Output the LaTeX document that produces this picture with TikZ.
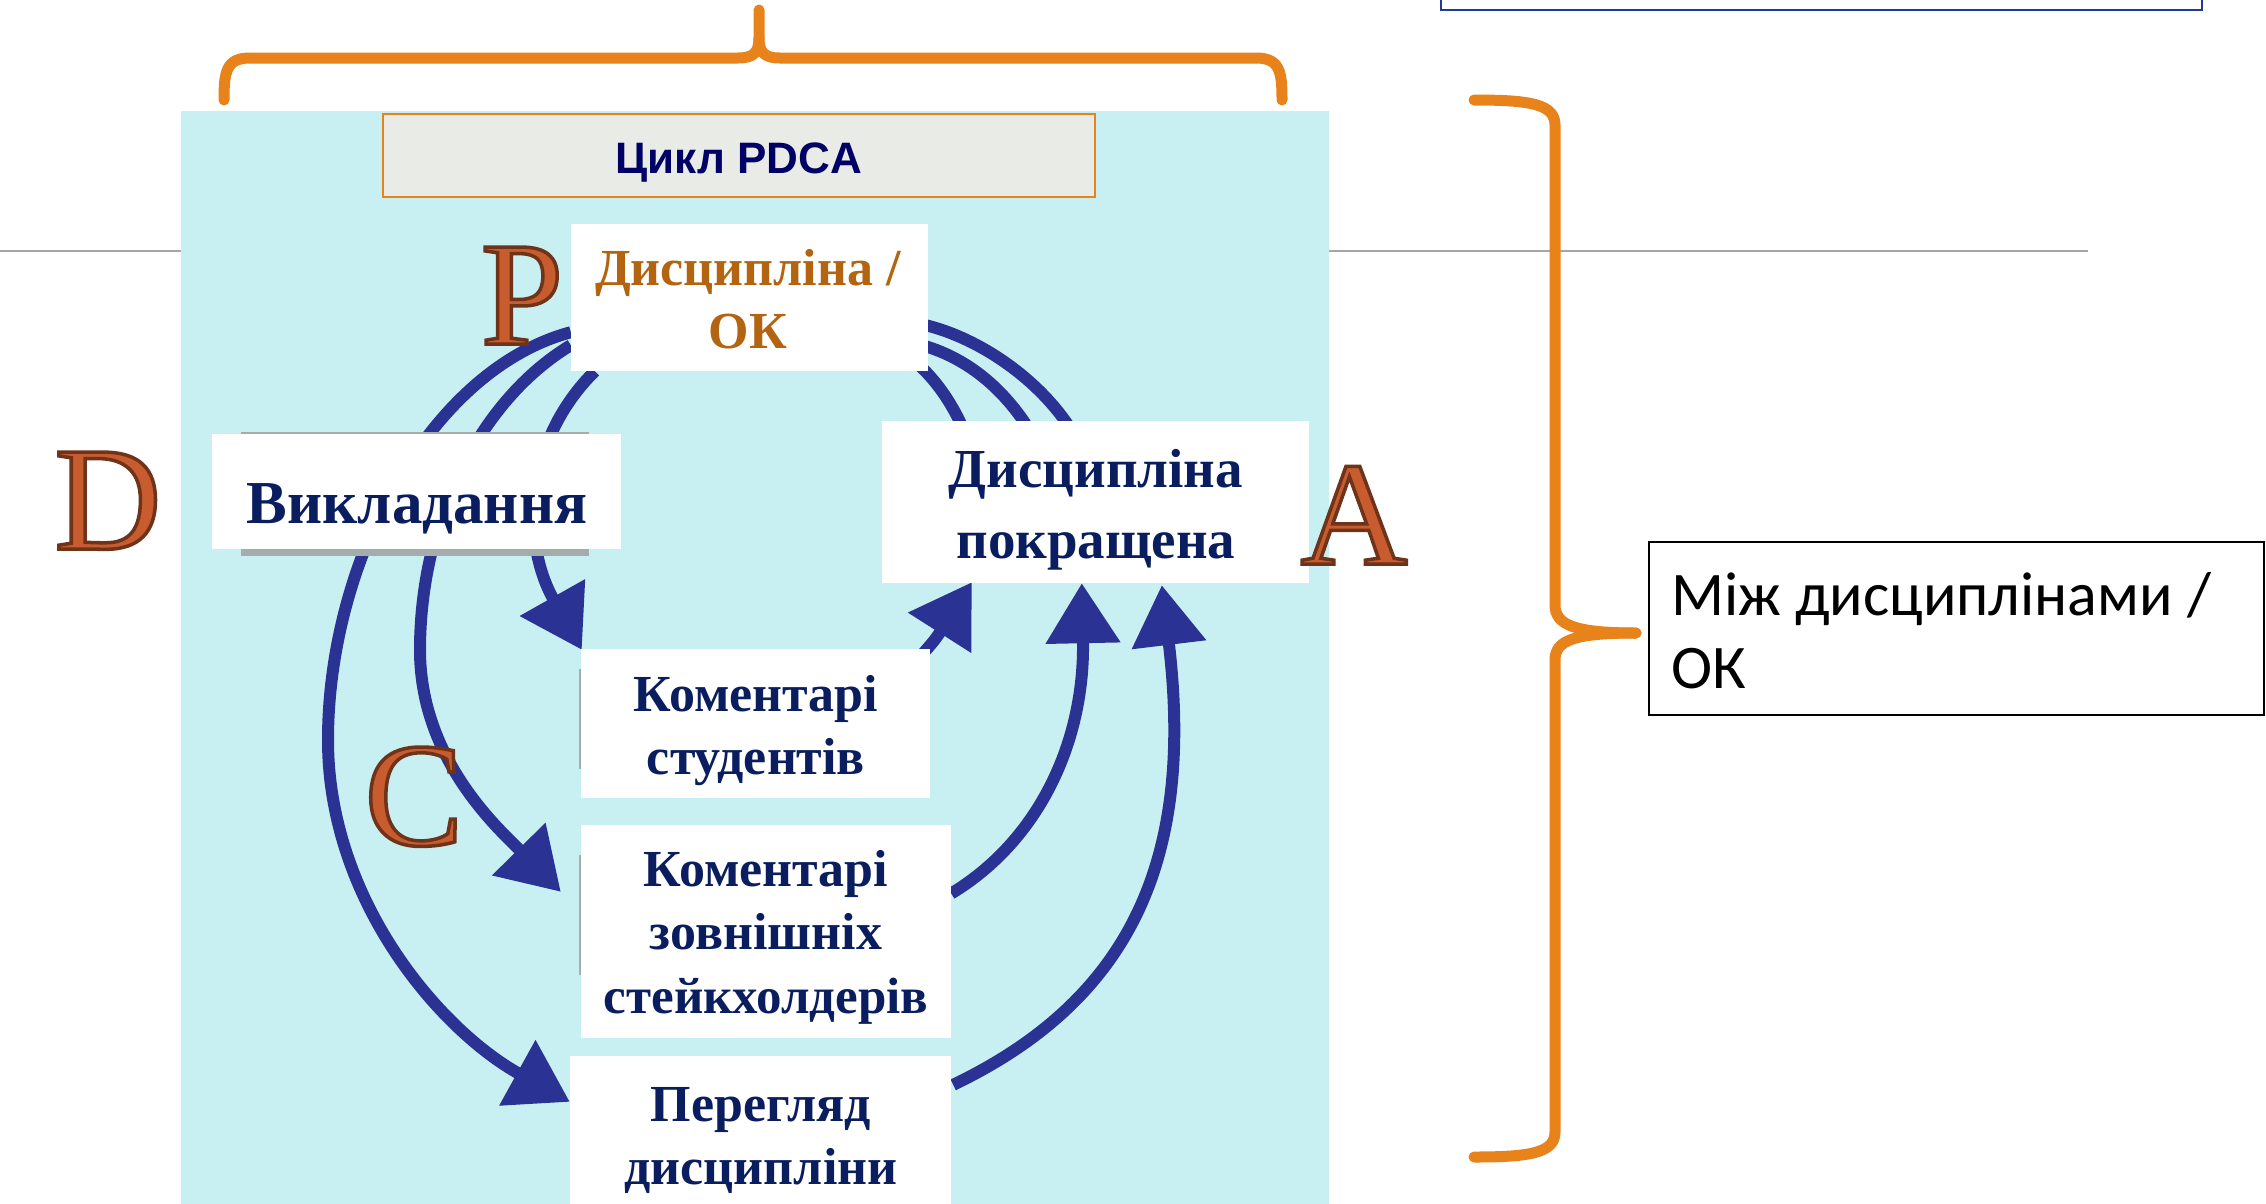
\documentclass[tikz,border=0pt]{standalone}
\usepackage{fontspec}
\setmainfont{Liberation Serif}
\newfontfamily\titlefont{Liberation Sans}
\newfontfamily\notefont{Carlito}
\usetikzlibrary{arrows.meta,calc}
\definecolor{bgcyan}{RGB}{200,240,242}
\definecolor{brorange}{RGB}{232,130,26}
\definecolor{arrblue}{RGB}{42,50,148}
\definecolor{txtnavy}{RGB}{10,30,95}
\definecolor{ttlnavy}{RGB}{0,0,102}
\definecolor{ochre}{RGB}{178,100,16}
\definecolor{letorange}{RGB}{200,92,46}
\definecolor{titlefill}{RGB}{233,235,230}
\definecolor{topblue}{RGB}{30,60,150}
\definecolor{linegray}{RGB}{166,166,166}
\definecolor{shadowgray}{RGB}{165,172,172}
% single glyph, orange fill with dark brown stroke (bevel look)
\newcommand{\bevelletter}[1]{\special{pdf:code 2 Tr 3.5 w 0.43 0.2 0.1 RG}#1\special{pdf:code 0 Tr}}
\begin{document}
\begin{tikzpicture}[x=1pt,y=-1pt,
  whitebox/.style={fill=white, draw=none, inner sep=0pt, rectangle},
  boxtxt/.style={font=\fontsize{52}{63}\selectfont\bfseries, text=txtnavy, inner sep=0pt, anchor=base},
  flow/.style={draw=arrblue, line width=12pt, -{Triangle[length=60pt,width=72pt]}},
  loopline/.style={draw=arrblue, line width=12pt},
  brace/.style={draw=brorange, line width=11pt, line join=round, line cap=round},
  bigletter/.style={font=\fontsize{148}{148}\selectfont, text=letorange, inner sep=0pt, anchor=base},
  notetxt/.style={font=\notefont\fontsize{62}{73}\selectfont, inner sep=0pt, anchor=base west}
]
\useasboundingbox (0,0) rectangle (2266,1203);
\clip (0,0) rectangle (2266,1203);
\fill[white] (0,0) rectangle (2266,1203);

% separator line and top-right box
\draw[linegray, line width=2pt] (0,251) -- (2088,251);
\draw[topblue, line width=2.5pt, fill=white] (1441,-20) rectangle (2202,10);

% braces
\draw[brace] (224,100) .. controls (224,72) and (226,58) .. (250,58) -- (738,58) .. controls (754,58) and (759,52) .. (759,38) -- (759,10);
\draw[brace] (1282,100) .. controls (1282,72) and (1280,58) .. (1256,58) -- (780,58) .. controls (764,58) and (759,52) .. (759,38);
\draw[brace] (1474,100) .. controls (1530,100) and (1555,104) .. (1555,125) -- (1555,605) .. controls (1555,625) and (1575,633) .. (1636,633);
\draw[brace] (1474,1157) .. controls (1530,1157) and (1555,1153) .. (1555,1132) -- (1555,660) .. controls (1555,640) and (1575,633) .. (1636,633);

% cyan panel
\fill[bgcyan] (181,111) rectangle (1329,1210);

% box shapes (named)
\node[whitebox, minimum width=357pt, minimum height=147pt] (p) at (749.5,297.5) {};
\node[whitebox, minimum width=427pt, minimum height=162pt] (dp) at (1095.5,502) {};
\node[whitebox, minimum width=349pt, minimum height=149pt] (ks) at (755.5,723.5) {};
\node[whitebox, minimum width=370pt, minimum height=213pt] (kz) at (766,931.5) {};
\node[whitebox, minimum width=381pt, minimum height=170pt] (pd) at (760.5,1141) {};

% connectors
\draw[flow] ($(p.south west)+(0,-39)$) .. controls (430,370) and (328,560) .. (328,740) .. controls (328,900) and (440,1030) .. ($(pd.north west)+(0,46)$);
\draw[flow] ($(p.south west)+(0,-26)$) .. controls (480,400) and (420,520) .. (420,650) .. controls (420,760) and (500,830) .. ($(kz.north west)+(-20,67)$);
\draw[flow] ($(p.south west)+(24,0)$) .. controls (525,440) and (520,540) .. ($(ks.north west)+(1,1)$);

\draw[flow] ($(ks.north east)+(-25,25)$) .. controls (935,640) .. ($(dp.south west)+(90,-1)$);
\draw[flow] ($(kz.east)+(0,-38)$) .. controls (1040,840) and (1085,740) .. ($(dp.south west)+(200,0)$);
\draw[flow] ($(pd.north east)+(2,29)$) .. controls (1130,1000) and (1195,860) .. ($(dp.south west)+(280,2)$);

\draw[loopline] ($(dp.north west)+(190,10)$) .. controls (1040,380) and (980,338) .. ($(p.north east)+(-4,101)$);
\draw[loopline] ($(dp.north west)+(145,5)$) .. controls (1000,385) and (965,358) .. ($(p.north east)+(-4,122)$);
\draw[loopline] ($(dp.north west)+(80,5)$) .. controls (950,400) and (935,380) .. ($(p.south east)+(-8,-5)$);

% boxes on top of connectors
\node[whitebox, minimum width=357pt, minimum height=147pt] (pb) at (p) {};
\node[whitebox, minimum width=427pt, minimum height=162pt] (dpb) at (dp) {};
\node[whitebox, minimum width=349pt, minimum height=149pt] (ksb) at (ks) {};
\node[whitebox, minimum width=370pt, minimum height=213pt] (kzb) at (kz) {};
\node[whitebox, minimum width=381pt, minimum height=170pt] (pdb) at (pd) {};
\node[fill=shadowgray, inner sep=0pt, minimum width=348pt, minimum height=124pt] (vsh) at (415,494) {};
\node[whitebox, minimum width=409pt, minimum height=115pt] (v) at (416.5,491.5) {};
\draw[shadowgray, line width=2pt] ($(ks.north west)+(-1,20)$) -- ($(ks.north west)+(-1,120)$);
\draw[shadowgray, line width=2pt] ($(kz.north west)+(-1,30)$) -- ($(kz.north west)+(-1,150)$);

% title
\node[fill=titlefill, draw=brorange, line width=2.5pt, inner sep=0pt, minimum width=712pt, minimum height=83pt] (title) at (739,155.5) {};
\node[font=\titlefont\bfseries\fontsize{44}{50}\selectfont, text=ttlnavy, inner sep=0pt, anchor=base] (titlet) at (739,173) {Цикл PDCA};

% box texts (one node per printed line)
\node[boxtxt, text=ochre] (pt1) at (748,285) {Дисципліна /};
\node[boxtxt, text=ochre] (pt2) at (748,348) {ОК};
\node[boxtxt, font=\fontsize{61}{70}\selectfont\bfseries] (vt) at (417,523) {Викладання};
\node[boxtxt, font=\fontsize{55}{71}\selectfont\bfseries] (dpt1) at (1096,487) {Дисципліна};
\node[boxtxt, font=\fontsize{55}{71}\selectfont\bfseries] (dpt2) at (1096,558) {покращена};
\node[boxtxt] (kst1) at (756,711) {Коментарі};
\node[boxtxt] (kst2) at (756,774) {студентів};
\node[boxtxt] (kzt1) at (766,886) {Коментарі};
\node[boxtxt] (kzt2) at (766,949) {зовнішніх};
\node[boxtxt, font=\fontsize{51}{63}\selectfont\bfseries] (kzt3) at (766,1013) {стейкхолдерів};
\node[boxtxt] (pdt1) at (761,1121) {Перегляд};
\node[boxtxt] (pdt2) at (761,1184) {дисципліни};

% PDCA letters
\node[bigletter] (pl) at (522,344) {\bevelletter{P}};
\node[bigletter] (dl) at (108,549) {\bevelletter{D}};
\node[bigletter] (cl) at (414,845) {\bevelletter{C}};
\node[bigletter] (al) at (1354,564) {\bevelletter{A}};

% right note
\node[draw=black, line width=2pt, inner sep=0pt, minimum width=615pt, minimum height=173pt] (note) at (1956.5,628.5) {};
\node[notetxt] (notet1) at (1671,615) {Між дисциплінами /};
\node[notetxt] (notet2) at (1671,688) {ОК};
\end{tikzpicture}
\end{document}
